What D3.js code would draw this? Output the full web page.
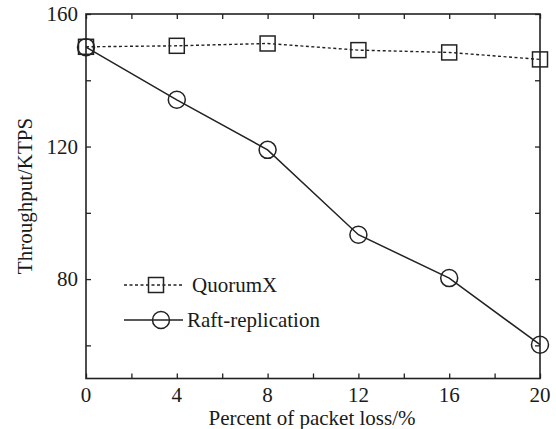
<!DOCTYPE html>
<html>
<head>
<meta charset="utf-8">
<script src="https://cdn.jsdelivr.net/npm/d3@7"></script>
<style>
  body { margin: 0; background: #fff; }
  svg text { font-family: "Liberation Serif", "Times New Roman", serif; fill: #1a1a1a; }
</style>
</head>
<body>
<div id="chart"></div>
<script>
const lossPercent = [0, 4, 8, 12, 16, 20];
const quorumX = [150.1, 150.4, 151.1, 149.1, 148.4, 146.3];
const raftReplication = [150.0, 134.1, 119.0, 93.4, 80.3, 60.2];
const xTicks = [0, 4, 8, 12, 16, 20];
const yTicks = [80, 120, 160];
const seriesNames = ['QuorumX', 'Raft-replication'];

const width = 556;
const height = 429;
const plotLeft = 86;
const plotRight = 540;
const plotTop = 14;
const plotBottom = 378.5;
const ink = '#222';

const svg = d3.select('#chart')
              .append('svg')
              .attr('width', width)
              .attr('height', height);

const x = d3.scaleLinear().domain([0, 20]).range([plotLeft, plotRight]);
const y = d3.scaleLinear().domain([50, 160]).range([plotBottom, plotTop]);

//axes with inward ticks, mirrored on top/right
function styleAxis(g) {
  g.select('.domain').remove();
  g.selectAll('line').attr('stroke', ink).attr('stroke-width', 1.3);
}

svg.append('g')
   .attr('transform', 'translate(0,' + plotBottom + ')')
   .call(d3.axisBottom(x).tickValues(d3.range(0, 21, 2)).tickSize(-5).tickFormat(''))
   .call(styleAxis);
svg.append('g')
   .attr('transform', 'translate(0,' + plotTop + ')')
   .call(d3.axisTop(x).tickValues(d3.range(0, 21, 2)).tickSize(-5).tickFormat(''))
   .call(styleAxis);
svg.append('g')
   .attr('transform', 'translate(' + plotLeft + ',0)')
   .call(d3.axisLeft(y).tickValues(d3.range(60, 161, 20)).tickSize(-5).tickFormat(''))
   .call(styleAxis);
svg.append('g')
   .attr('transform', 'translate(' + plotRight + ',0)')
   .call(d3.axisRight(y).tickValues(d3.range(60, 161, 20)).tickSize(-5).tickFormat(''))
   .call(styleAxis);

//frame
svg.append('rect')
   .attr('x', plotLeft)
   .attr('y', plotTop)
   .attr('width', plotRight - plotLeft)
   .attr('height', plotBottom - plotTop)
   .attr('fill', 'none')
   .attr('stroke', ink)
   .attr('stroke-width', 1.6);

//tick labels
svg.selectAll('.xlab')
   .data(xTicks)
   .enter()
   .append('text')
   .attr('class', 'xlab')
   .text(d => d)
   .attr('x', d => x(d))
   .attr('y', 402)
   .attr('text-anchor', 'middle')
   .attr('font-size', 21);

svg.selectAll('.ylab')
   .data(yTicks)
   .enter()
   .append('text')
   .attr('class', 'ylab')
   .text(d => d)
   .attr('x', plotLeft - 8)
   .attr('y', d => y(d) + 7)
   .attr('text-anchor', 'end')
   .attr('font-size', 21);

//axis titles
svg.append('text')
   .text('Percent of packet loss/%')
   .attr('x', 312)
   .attr('y', 425)
   .attr('text-anchor', 'middle')
   .attr('font-size', 21);

svg.append('text')
   .text('Throughput/KTPS')
   .attr('transform', 'translate(32,196) rotate(-90)')
   .attr('text-anchor', 'middle')
   .attr('font-size', 21);

//lines
const line = d3.line()
               .x((d, i) => x(lossPercent[i]))
               .y(d => y(d));

svg.append('path')
   .datum(quorumX)
   .attr('d', line)
   .attr('fill', 'none')
   .attr('stroke', ink)
   .attr('stroke-width', 1.4)
   .attr('stroke-dasharray', '3,2.5');

svg.append('path')
   .datum(raftReplication)
   .attr('d', line)
   .attr('fill', 'none')
   .attr('stroke', ink)
   .attr('stroke-width', 1.5);

//markers
svg.selectAll('.sq')
   .data(quorumX)
   .enter()
   .append('rect')
   .attr('class', 'sq')
   .attr('x', (d, i) => x(lossPercent[i]) - 7.5)
   .attr('y', d => y(d) - 7.5)
   .attr('width', 15)
   .attr('height', 15)
   .attr('fill', 'none')
   .attr('stroke', ink)
   .attr('stroke-width', 1.5);

svg.selectAll('.circ')
   .data(raftReplication)
   .enter()
   .append('circle')
   .attr('class', 'circ')
   .attr('cx', (d, i) => x(lossPercent[i]))
   .attr('cy', d => y(d))
   .attr('r', 8.5)
   .attr('fill', 'none')
   .attr('stroke', ink)
   .attr('stroke-width', 1.5);

//legend
const legend = svg.append('g').attr('transform', 'translate(124,0)');
const rows = [285, 320];

legend.append('line')
      .attr('x1', 0).attr('x2', 58)
      .attr('y1', rows[0]).attr('y2', rows[0])
      .attr('stroke', ink).attr('stroke-width', 1.4)
      .attr('stroke-dasharray', '3,2.5');
legend.append('rect')
      .attr('x', 32 - 7.5).attr('y', rows[0] - 7.5)
      .attr('width', 15).attr('height', 15)
      .attr('fill', 'none').attr('stroke', ink).attr('stroke-width', 1.5);
legend.append('line')
      .attr('x1', 0).attr('x2', 59)
      .attr('y1', rows[1]).attr('y2', rows[1])
      .attr('stroke', ink).attr('stroke-width', 1.5);
legend.append('circle')
      .attr('cx', 37).attr('cy', rows[1]).attr('r', 8.5)
      .attr('fill', 'none').attr('stroke', ink).attr('stroke-width', 1.5);

legend.selectAll('text')
      .data(seriesNames)
      .enter()
      .append('text')
      .text(d => d)
      .attr('x', (d, i) => i === 0 ? 68 : 63)
      .attr('y', (d, i) => rows[i] + 7)
      .attr('font-size', 21);
</script>
</body>
</html>
